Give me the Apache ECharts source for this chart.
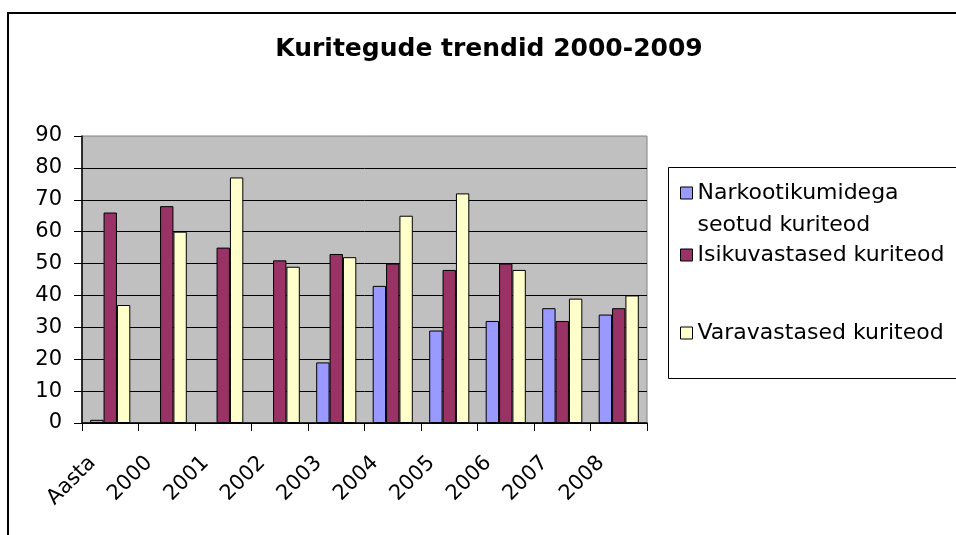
<!DOCTYPE html>
<html>
<head>
<meta charset="utf-8">
<script src="https://cdn.jsdelivr.net/npm/echarts@6/dist/echarts.min.js"></script>
<style>
html,body{margin:0;padding:0;background:#fff;}
#chart{width:956px;height:535px;}
</style>
</head>
<body>
<div id="chart"></div>
<script>
const categories = ['Aasta', '2000', '2001', '2002', '2003', '2004', '2005', '2006', '2007', '2008'];
const seriesNames = ['Narkootikumidega seotud kuriteod', 'Isikuvastased kuriteod', 'Varavastased kuriteod'];
const narkootikumid = [1, null, null, null, 19, 43, 29, 32, 36, 34];
const isikuvastased = [66, 68, 55, 51, 53, 50, 48, 50, 32, 36];
const varavastased = [37, 60, 77, 49, 52, 65, 72, 48, 39, 40];
const yTicks = [0, 10, 20, 30, 40, 50, 60, 70, 80, 90];
const titleText = 'Kuritegude trendid 2000-2009';
const colors = ['#9999FF', '#993366', '#FFFFCC'];

const FONT = 'DejaVu Sans';
const chart = echarts.init(document.getElementById('chart'));

function bar(name, data, color) {
  return {
    name: name,
    type: 'bar',
    data: data,
    barGap: '0%',
    barCategoryGap: '29%',
    itemStyle: { color: color, borderColor: '#000', borderWidth: 1 },
    emphasis: { disabled: true },
    animation: false
  };
}

function legendFor(name, top, extra) {
  return Object.assign({
    show: true,
    left: 680,
    top: top,
    padding: 0,
    orient: 'vertical',
    itemWidth: 12,
    itemHeight: 12,
    itemGap: 0,
    icon: 'rect',
    selectedMode: false,
    itemStyle: { borderColor: '#000', borderWidth: 1 },
    textStyle: { fontFamily: FONT, fontSize: 22, color: '#000', lineHeight: 32 },
    data: [name]
  }, extra || {});
}

const option = {
  backgroundColor: '#fff',
  animation: false,
  title: {
    text: titleText,
    left: 484,
    top: 32,
    textAlign: 'center',
    textStyle: { fontFamily: FONT, fontSize: 25, fontWeight: 'bold', color: '#000' }
  },
  graphic: [
    { type: 'rect', z: -1, shape: { x: 8, y: 13, width: 1000, height: 600 }, style: { fill: 'none', stroke: '#000', lineWidth: 2 } },
    { type: 'rect', z: -1, shape: { x: 668.5, y: 167.5, width: 400, height: 211 }, style: { fill: '#fff', stroke: '#000', lineWidth: 1 } }
  ],
  legend: [
    legendFor(seriesNames[0], 177, {
      itemHeight: 44,
      formatter: function () { return 'Narkootikumidega\nseotud kuriteod'; },
      data: [{ name: seriesNames[0], icon: 'path://M0,0L12,0L12,12L0,12Z M0,44L0.01,44' }]
    }),
    legendFor(seriesNames[1], 239),
    legendFor(seriesNames[2], 317)
  ],
  grid: {
    left: 82, top: 136, right: 309, bottom: 112,
    show: true, backgroundColor: '#C0C0C0', borderColor: '#808080', borderWidth: 1,
    containLabel: false
  },
  xAxis: {
    type: 'category',
    data: categories,
    axisLine: { show: true, lineStyle: { color: '#000', width: 1.5 } },
    axisTick: { show: true, length: 8, lineStyle: { color: '#000', width: 1 } },
    axisLabel: {
      interval: 0, rotate: 45, margin: 19, padding: [0, 25, 0, 0],
      fontFamily: FONT, fontSize: 21, color: '#000'
    },
    splitLine: { show: false }
  },
  yAxis: {
    type: 'value',
    min: yTicks[0],
    max: yTicks[yTicks.length - 1],
    interval: 10,
    axisLine: { show: true, lineStyle: { color: '#000', width: 1.5 } },
    axisTick: { show: true, length: 8, lineStyle: { color: '#000', width: 1 } },
    axisLabel: { margin: 20, fontFamily: FONT, fontSize: 21, color: '#000' },
    splitLine: { show: true, showMaxLine: false, lineStyle: { color: '#000', width: 1 } }
  },
  series: [
    bar(seriesNames[0], narkootikumid, colors[0]),
    bar(seriesNames[1], isikuvastased, colors[1]),
    bar(seriesNames[2], varavastased, colors[2])
  ]
};
chart.setOption(option);
</script>
</body>
</html>
